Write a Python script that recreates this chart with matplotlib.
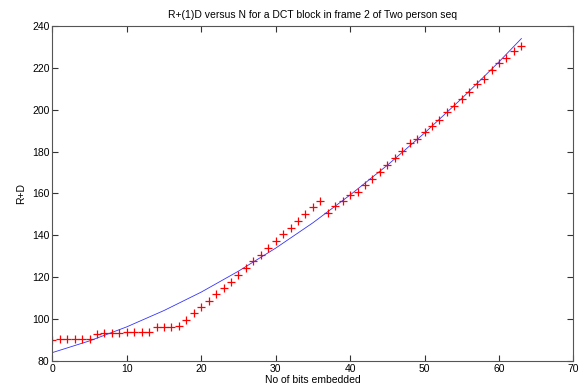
import matplotlib
matplotlib.use("Agg")
import matplotlib.pyplot as plt

# measured R+D for each number of embedded bits
n_bits = list(range(64))
rd_meas = [89.8, 90.3, 90.3, 90.3, 90.6, 90.6, 93.0, 93.2, 93.2, 93.4,
           93.8, 93.8, 94.0, 94.0, 96.0, 96.0, 96.2, 96.6, 99.8, 102.9,
           105.8, 108.6, 111.9, 115.0, 117.9, 121.1, 124.6, 127.6, 130.8, 133.8,
           137.5, 140.5, 143.5, 146.7, 150.3, 153.4, 156.6, 150.7, 153.9, 156.3,
           159.3, 160.8, 163.9, 167.1, 170.4, 173.7, 177.1, 180.4, 184.3, 186.2,
           189.4, 192.4, 195.2, 199.1, 201.6, 205.0, 208.5, 212.1, 214.5, 219.0,
           222.5, 224.9, 228.1, 230.6]

# fitted curve
fit_x = [0, 5, 10, 15, 20, 25, 30, 35, 40, 45, 50, 55, 60, 63]
fit_y = [84.0, 89.6, 96.3, 104.1, 112.9, 122.9, 133.9, 146.0, 159.3, 173.5,
         188.9, 205.4, 222.9, 234.0]

plt.rcParams['font.family'] = ['Liberation Sans', 'DejaVu Sans']
plt.rcParams['font.size'] = 7.5

fig = plt.figure(figsize=(5.79, 3.88), dpi=100)
ax = fig.add_axes([0.0903, 0.0696, 0.9002, 0.8634])

ax.plot(fit_x, fit_y, color='#0000ff', lw=0.6, alpha=0.8)
ax.plot(n_bits, rd_meas, '+', color='red', ms=6, mew=0.9)

ax.set_xlim(0, 70)
ax.set_ylim(80, 240)
ax.set_xticks(range(0, 71, 10))
ax.set_yticks(range(80, 241, 20))
ax.tick_params(direction='in', length=4, width=0.8, top=True, right=True,
               colors='#333333', labelcolor='black', pad=2)
for s in ax.spines.values():
    s.set_color('#555555')
    s.set_linewidth(0.8)

ax.set_title('R+(1)D versus N for a DCT block in frame 2 of Two person seq',
             fontsize=7.5, pad=6)
ax.set_xlabel('No of bits embedded', labelpad=1)
ax.set_ylabel('R+D', labelpad=4)

fig.savefig('out.png', dpi=100)
